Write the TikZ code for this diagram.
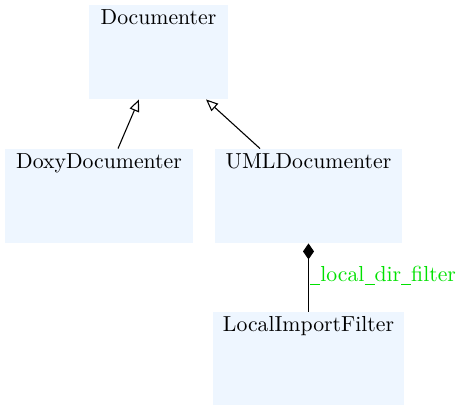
\documentclass[tikz,border=0pt]{standalone}
\usetikzlibrary{arrows.meta,calc}
\definecolor{boxblue}{RGB}{238,246,255}
\definecolor{lblgreen}{RGB}{0,225,0}
\newcommand\pxu{0.46pt}
\newcommand\us{\rule[-1.2pt]{4.6pt}{0.45pt}}
\tikzset{
  cls/.style={fill=boxblue, draw=none, inner sep=0pt},
  clstext/.style={anchor=base, yshift=-19.5*\pxu, inner sep=0pt},
  inh/.style={draw=black, line width=0.5pt, -{Triangle[open,length=12*\pxu,width=10*\pxu]}},
  comp/.style={draw=black, line width=0.5pt, {Diamond[length=16*\pxu,width=11*\pxu]}-},
  rolelbl/.style={text=lblgreen, inner sep=0pt, anchor=base west}
}
\begin{document}
\begin{tikzpicture}[x=0.46pt, y=-0.46pt]
\useasboundingbox (0,0) rectangle (460,412);
\node[cls, minimum width=139*\pxu, minimum height=94*\pxu,
  label={[clstext]north:Documenter}] (doc) at (158.5,52) {};
\node[cls, minimum width=188*\pxu, minimum height=94*\pxu,
  label={[clstext]north:DoxyDocumenter}] (doxy) at (99,196) {};
\node[cls, minimum width=187*\pxu, minimum height=94*\pxu,
  label={[clstext]north:UMLDocumenter}] (uml) at (308.5,196) {};
\node[cls, minimum width=191*\pxu, minimum height=93*\pxu,
  label={[clstext]north:LocalImportFilter}] (lif) at (308.5,358.5) {};
\draw[inh] ([xshift=19*\pxu]doxy.north) -- ([xshift=-19.5*\pxu]doc.south);
\draw[inh] ([xshift=-48.5*\pxu]uml.north) -- ([xshift=47.5*\pxu]doc.south);
\draw[comp] (uml.south) -- (lif.north);
\node[rolelbl] (role) at (310,282) {\us local\us dir\us filter};
\end{tikzpicture}
\end{document}
